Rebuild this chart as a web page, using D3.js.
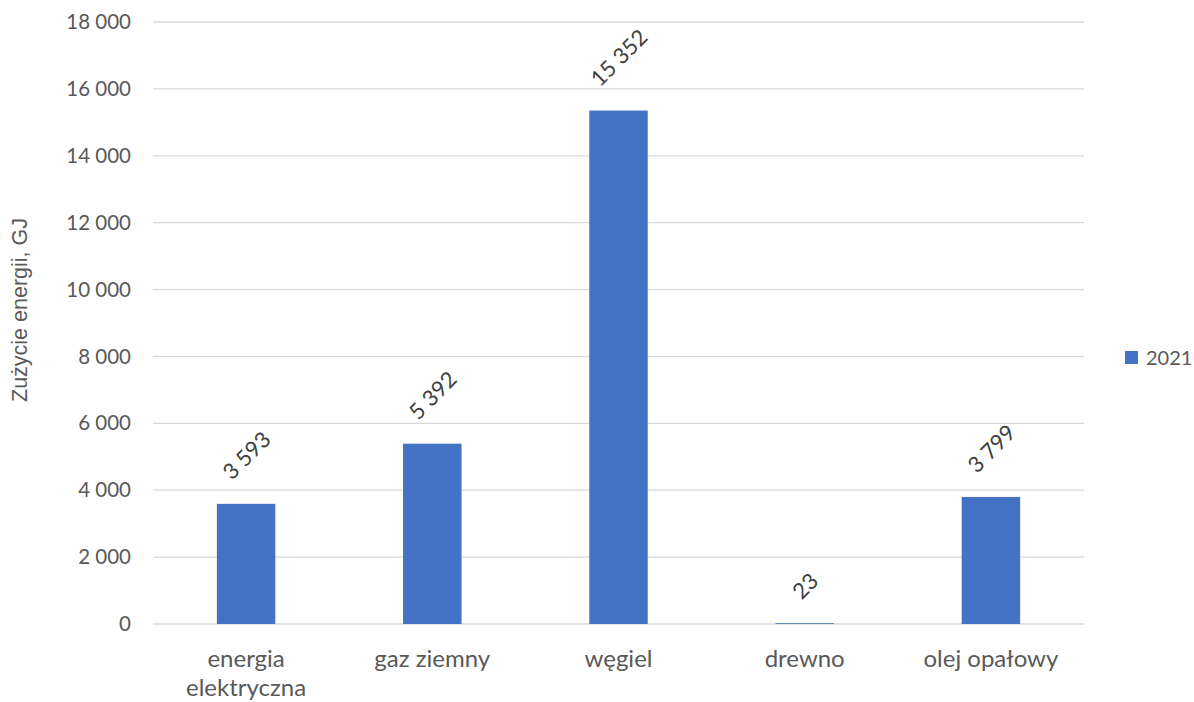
<!DOCTYPE html>
<html><head><meta charset="utf-8">
<script src="https://cdn.jsdelivr.net/npm/d3@7"></script>
<style>body{margin:0;background:#fff}svg{display:block}</style>
</head><body><svg id="c" width="1194" height="702"></svg>
<script>
const categories = [["energia","elektryczna"],["gaz ziemny"],["węgiel"],["drewno"],["olej opałowy"]];
const values2021 = [3593, 5392, 15352, 23, 3799];
const yTicks = [0,2000,4000,6000,8000,10000,12000,14000,16000,18000];
const seriesName = "2021";
const yTitle = "Zużycie energii, GJ";

const FONT = "Lato, 'Open Sans', sans-serif";
const svg = d3.select("#c");
const L = 153, R = 1084, T = 22, B = 624;
const fmt = v => d3.format(",")(v).replace(/,/g, " ");

const x = d3.scaleBand().domain(d3.range(categories.length)).range([L, R]).paddingInner(0.686).paddingOuter(0.343);
const y = d3.scaleLinear().domain([0, 18000]).range([B, T]);

// grid
svg.append("g").selectAll("line").data(yTicks).join("line")
  .attr("x1", L).attr("x2", R).attr("y1", d => y(d)).attr("y2", d => y(d))
  .attr("stroke", "#d9d9d9").attr("stroke-width", 1.3);

// y axis labels
const yAx = svg.append("g").attr("transform", `translate(${L},0)`)
  .call(d3.axisLeft(y).tickValues(yTicks).tickFormat(fmt).tickSize(0).tickPadding(22));
yAx.select(".domain").remove();
yAx.selectAll("text").attr("font-family", FONT).attr("font-size", 20.5).attr("fill", "#595959");

// bars
svg.append("g").selectAll("rect").data(values2021).join("rect")
  .attr("x", (d, i) => x(i)).attr("width", x.bandwidth())
  .attr("y", d => y(d)).attr("height", d => B - y(d))
  .attr("fill", "#4472c4");

// data labels rotated -45
const lbl = svg.append("g").selectAll("text").data(values2021).join("text")
  .text(d => fmt(d))
  .attr("font-family", FONT).attr("font-size", 22).attr("fill", "#404040")
  .attr("text-anchor", "middle").attr("dominant-baseline", "central");
lbl.each(function(d, i) {
  const len = this.getComputedTextLength();
  const h = 22;
  const bh = (len + h) * Math.SQRT1_2;
  const cx = x(i) + x.bandwidth() / 2;
  const cy = y(d) - 24 - bh / 2 + 3;
  d3.select(this).attr("transform", `translate(${cx},${cy}) rotate(-45)`);
});

// x axis category labels
const xl = svg.append("g").selectAll("text").data(categories).join("text")
  .attr("font-family", FONT).attr("font-size", 24).attr("fill", "#595959")
  .attr("text-anchor", "middle")
  .attr("x", (d, i) => x(i) + x.bandwidth() / 2).attr("y", 667);
xl.selectAll("tspan").data(d => d).join("tspan")
  .attr("x", function() { return d3.select(this.parentNode).attr("x"); })
  .attr("dy", (d, j) => j === 0 ? 0 : 29).text(d => d);

// y title
svg.append("text").attr("transform", `translate(27,310) rotate(-90)`)
  .attr("text-anchor", "middle").attr("font-family", "'Liberation Sans', Arial, sans-serif").attr("font-size", 21.5)
  .attr("fill", "#595959").text(yTitle);

// legend
svg.append("rect").attr("x", 1125).attr("y", 351).attr("width", 13).attr("height", 13).attr("fill", "#4472c4");
svg.append("text").attr("x", 1146).attr("y", 365).attr("font-family", FONT).attr("font-size", 20)
  .attr("fill", "#595959").text(seriesName);
</script></body></html>
